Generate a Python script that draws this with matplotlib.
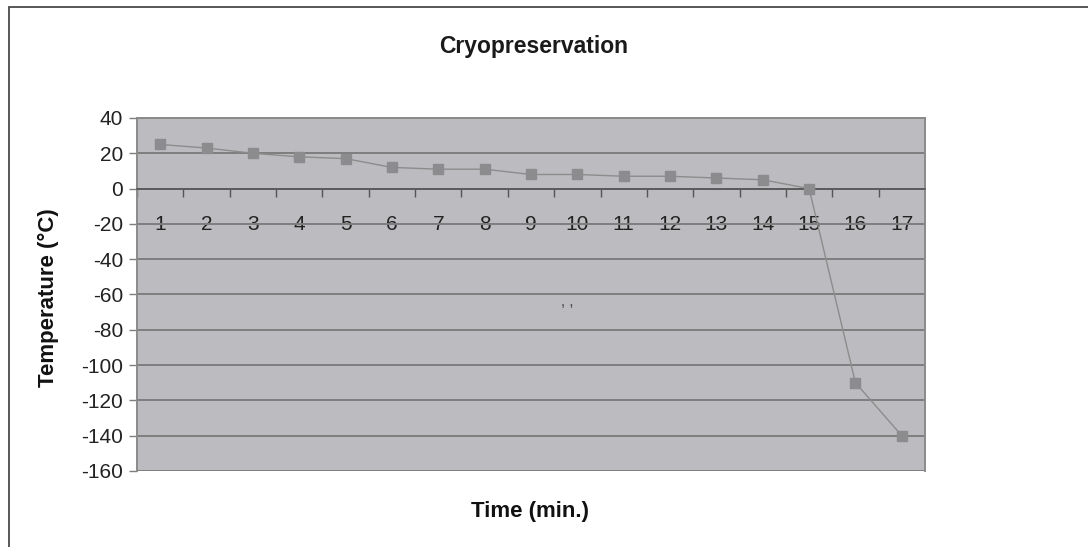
import matplotlib
matplotlib.use("Agg")
from matplotlib import pyplot as plt
from matplotlib.patches import Rectangle

# Time points (min.) and measured temperature (ºC)
minutes = list(range(1, 18))
temperature = [25, 23, 20, 18, 17, 12, 11, 11, 8, 8, 7, 7, 6, 5, 0, -110, -140]
y_ticks = [40, 20, 0, -20, -40, -60, -80, -100, -120, -140, -160]

plt.rcParams['font.family'] = ['Liberation Sans', 'DejaVu Sans']
plt.rcParams['axes.unicode_minus'] = False

W, H = 1088, 547
fig = plt.figure(figsize=(W / 100, H / 100), dpi=100)
ax = fig.add_axes([137 / W, 1 - 471 / H, (925 - 137) / W, (471 - 118) / H])

# Outer chart frame (cut off at right and bottom like the source)
fig.add_artist(Rectangle((9 / W, -0.05), 1.2, 1 - 7 / H + 0.05, transform=fig.transFigure,
                         fill=False, edgecolor='#4a4a4a', linewidth=1.3))

ax.set_facecolor('#bcbcc0')
ax.plot(minutes, temperature, color='#8c8c8c', linewidth=1.0, marker='s',
        markersize=7, markerfacecolor='#8c8c8e', markeredgecolor='#8c8c8e', zorder=3)

ax.set_ylim(-160, 40)
ax.set_yticks(y_ticks)
ax.yaxis.grid(True, color='#7e7e7e', linewidth=1.4)
ax.set_axisbelow(True)
ax.tick_params(axis='y', direction='out', length=6, width=1, color='#7e7e7e',
               labelsize=15, pad=4, labelcolor='#222222')

# Category x-axis sitting on y = 0
ax.set_xlim(0.5, 17.5)
ax.spines['bottom'].set_position(('data', 0))
ax.set_xticks(minutes)
ax.set_xticklabels([str(m) for m in minutes])
ax.set_xticks([m + 0.5 for m in range(0, 17)], minor=True)
ax.tick_params(axis='x', which='major', length=0, labelsize=15, pad=19, labelcolor='#222222')
ax.tick_params(axis='x', which='minor', direction='out', length=6, width=1, color='#555555')
ax.spines['bottom'].set_color('#555555')
ax.spines['bottom'].set_linewidth(1.2)
for side in ['left', 'right', 'top']:
    ax.spines[side].set_color('#8a8a8a')
    ax.spines[side].set_linewidth(1.4)

fig.text(534 / W, 1 - 47 / H, 'Cryopreservation', ha='center', va='center',
         fontsize=16.5, fontweight='bold', color='#1a1a1a')
fig.text(48 / W, 1 - 298 / H, 'Temperature (°C)', ha='center', va='center',
         rotation=90, fontsize=16, fontweight='bold', color='#111111')
fig.text(530 / W, 1 - 511 / H, 'Time (min.)', ha='center', va='center',
         fontsize=16, fontweight='bold', color='#111111')
# stray mark present in the source image
ax.text(9.78, -64, ', ,', ha='center', va='center', fontsize=11, color='#444444')

fig.savefig('out.png', dpi=100)
